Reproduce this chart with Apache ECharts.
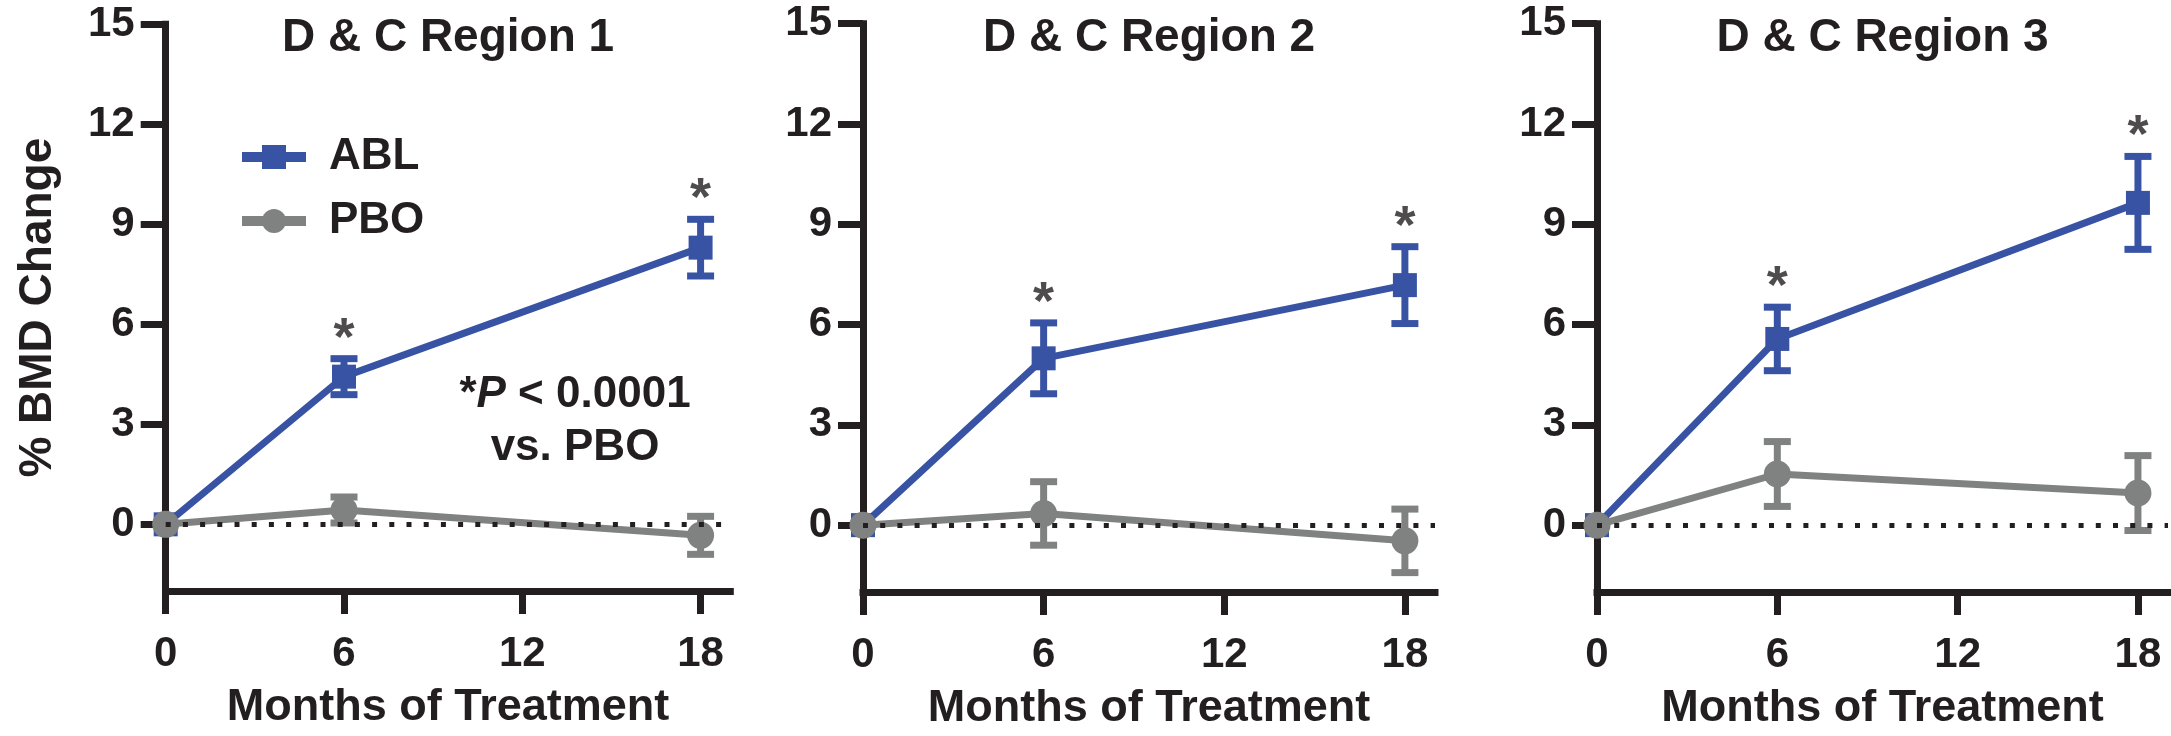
<!DOCTYPE html>
<html>
<head>
<meta charset="utf-8">
<script src="https://cdn.jsdelivr.net/npm/echarts@6/dist/echarts.min.js"></script>
<style>
html,body{margin:0;padding:0;background:#fff;}
#chart{width:2171px;height:736px;}
</style>
</head>
<body>
<div id="chart"></div>
<script>
// ---- data ----
const months = [0, 6, 18];
const panelTitles = ['D & C Region 1', 'D & C Region 2', 'D & C Region 3'];
const seriesNames = ['ABL', 'PBO'];
const ablMean1 = [0, 4.43, 8.30];
const ablErr1  = [0, 0.54, 0.85];
const pboMean1 = [0, 0.43, -0.33];
const pboErr1  = [0, 0.39, 0.57];
const ablMean2 = [0, 4.99, 7.18];
const ablErr2  = [0, 1.06, 1.15];
const pboMean2 = [0, 0.35, -0.47];
const pboErr2  = [0, 0.95, 0.95];
const ablMean3 = [0, 5.57, 9.64];
const ablErr3  = [0, 0.95, 1.39];
const pboMean3 = [0, 1.53, 0.96];
const pboErr3  = [0, 0.97, 1.12];
const sigFlags = [false, true, true];
const yTickValues = [0, 3, 6, 9, 12, 15];
const xTickValues = [0, 6, 12, 18];
const yMin = -2, yMax = 15, xMin = 0, xMax = 19;
const yAxisTitle = '% BMD Change';
const xAxisTitle = 'Months of Treatment';
const sigNote = ['*', 'P', ' < 0.0001', 'vs. PBO'];

// ---- styling ----
const FONT = "'Liberation Sans', Arial, Helvetica, sans-serif";
const INK = '#231f20';
const BLUE = '#3953a4';
const GRAY = '#7f8281';

const panels = [
  {abl: ablMean1, ablE: ablErr1, pbo: pboMean1, pboE: pboErr1},
  {abl: ablMean2, ablE: ablErr2, pbo: pboMean2, pboE: pboErr2},
  {abl: ablMean3, ablE: ablErr3, pbo: pboMean3, pboE: pboErr3}
];
const gridBoxes = [
  {left: 165.7, top: 24.3, width: 564.6, height: 566.7},
  {left: 863, top: 23.7, width: 572, height: 574.6},
  {left: 1597, top: 23.7, width: 571, height: 574.6}
];

function errRender(color) {
  return function (params, api) {
    const x = api.value(0), y = api.value(1), e = api.value(2);
    if (!e) return null;
    const p1 = api.coord([x, y + e]);
    const p2 = api.coord([x, y - e]);
    const hw = 13.5;
    const st = {stroke: color, lineWidth: 7};
    return {
      type: 'group',
      children: [
        {type: 'line', shape: {x1: p1[0], y1: p1[1], x2: p2[0], y2: p2[1]}, style: st},
        {type: 'line', shape: {x1: p1[0] - hw, y1: p1[1], x2: p1[0] + hw, y2: p1[1]}, style: st},
        {type: 'line', shape: {x1: p2[0] - hw, y1: p2[1], x2: p2[0] + hw, y2: p2[1]}, style: st}
      ]
    };
  };
}

const grid = [], xAxis = [], yAxis = [], series = [], title = [];
panels.forEach((pn, i) => {
  const g = gridBoxes[i];
  grid.push(Object.assign({containLabel: false}, g));
  title.push({
    text: panelTitles[i], left: g.left + g.width / 2, top: 15, textAlign: 'center', padding: 0,
    textStyle: {fontFamily: FONT, fontSize: 46, fontWeight: 'bold', color: INK}
  });
  xAxis.push({
    type: 'value', gridIndex: i, min: xMin, max: xMax,
    name: xAxisTitle, nameLocation: 'middle', nameGap: 94,
    nameTextStyle: {fontFamily: FONT, fontSize: 45, fontWeight: 'bold', color: INK},
    axisLine: {show: true, onZero: false, lineStyle: {color: INK, width: 7, cap: 'square'}},
    axisTick: {show: true, length: 23, customValues: xTickValues, lineStyle: {color: INK, width: 7}},
    axisLabel: {show: true, customValues: xTickValues, margin: 42, fontFamily: FONT, fontSize: 42, fontWeight: 'bold', color: INK},
    splitLine: {show: false}
  });
  yAxis.push({
    type: 'value', gridIndex: i, min: yMin, max: yMax,
    name: i === 0 ? yAxisTitle : '', nameLocation: 'middle', nameGap: 104, nameRotate: 90,
    nameTextStyle: {fontFamily: FONT, fontSize: 46, fontWeight: 'bold', color: INK},
    axisLine: {show: true, onZero: false, lineStyle: {color: INK, width: 7, cap: 'square'}},
    axisTick: {show: true, length: 25, customValues: yTickValues, lineStyle: {color: INK, width: 7}},
    axisLabel: {show: true, customValues: yTickValues, margin: 31, fontFamily: FONT, fontSize: 42, fontWeight: 'bold', color: INK},
    splitLine: {show: false}
  });
  const ablData = months.map((m, k) => [m, pn.abl[k], pn.ablE[k]]);
  const pboData = months.map((m, k) => [m, pn.pbo[k], pn.pboE[k]]);
  series.push({
    type: 'line', name: seriesNames[0], xAxisIndex: i, yAxisIndex: i, z: 3,
    data: ablData.map(d => [d[0], d[1]]),
    symbol: 'rect', symbolSize: 24,
    lineStyle: {color: BLUE, width: 7}, itemStyle: {color: BLUE},
    markLine: {
      silent: true, symbol: 'none', label: {show: false}, animation: false,
      lineStyle: {type: [5, 12.2], width: 5, color: INK, cap: 'butt'},
      emphasis: {disabled: true},
      data: [{yAxis: 0}]
    }
  });
  series.push({
    type: 'custom', name: 'ABL err', xAxisIndex: i, yAxisIndex: i, z: 3,
    data: ablData, renderItem: errRender(BLUE), encode: {x: 0, y: [1, 2]}
  });
  series.push({
    type: 'line', name: seriesNames[1], xAxisIndex: i, yAxisIndex: i, z: 4,
    data: pboData.map(d => [d[0], d[1]]),
    symbol: 'circle', symbolSize: 27,
    lineStyle: {color: GRAY, width: 7}, itemStyle: {color: GRAY}
  });
  series.push({
    type: 'custom', name: 'PBO err', xAxisIndex: i, yAxisIndex: i, z: 4,
    data: pboData, renderItem: errRender(GRAY), encode: {x: 0, y: [1, 2]}
  });
  series.push({
    type: 'scatter', name: 'sig', xAxisIndex: i, yAxisIndex: i, z: 5,
    symbolSize: 0, silent: true,
    data: months.map((m, k) => sigFlags[k] ? [m, pn.abl[k] + pn.ablE[k]] : null).filter(Boolean),
    label: {show: true, position: 'top', distance: -8, formatter: '*',
      fontFamily: FONT, fontSize: 54, fontWeight: 'bold', color: INK}
  });
});

const chart = echarts.init(document.getElementById('chart'), null, {renderer: 'canvas'});
chart.setOption({
  animation: false,
  backgroundColor: '#ffffff',
  title: title,
  grid: grid,
  xAxis: xAxis,
  yAxis: yAxis,
  legend: {
    data: seriesNames, orient: 'vertical', left: 232, top: 130,
    itemWidth: 64, itemHeight: 30, itemGap: 20, selectedMode: false,
    lineStyle: {width: 10},
    textStyle: {fontFamily: FONT, fontSize: 44, fontWeight: 'bold', color: INK, padding: [0, 0, 0, 18], lineHeight: 44}
  },
  graphic: [{
    type: 'text', x: 575, y: 421,
    style: {
      text: '{a|' + sigNote[0] + '}{b|' + sigNote[1] + '}{a|' + sigNote[2] + '}\n{a|' + sigNote[3] + '}',
      align: 'center', verticalAlign: 'middle',
      rich: {
        a: {fontFamily: FONT, fontSize: 44, fontWeight: 'bold', fill: INK, lineHeight: 53, align: 'center'},
        b: {fontFamily: FONT, fontSize: 44, fontWeight: 'bold', fontStyle: 'italic', fill: INK, lineHeight: 53}
      }
    }
  }],
  series: series
});
</script>
</body>
</html>
